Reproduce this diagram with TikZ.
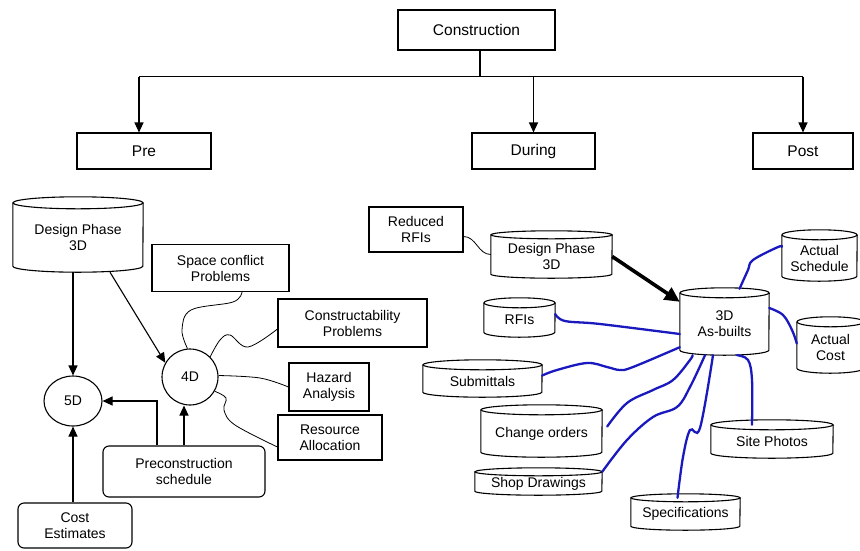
\documentclass[tikz,border=0pt]{standalone}
\usepackage{fontspec}
\setmainfont{Liberation Sans}
\usetikzlibrary{arrows.meta,shapes.geometric}
\definecolor{wireblue}{RGB}{25,25,190}
% cylinder: name, x1, ytop, x2, ybot, ry, text
\newcommand{\dbcyl}[7]{%
  \node[cylbody, minimum width={(#4-#2)*1pt}, minimum height={(#5-#3-#6)*1pt}] (#1) at ({(#2+#4)/2},{(#3+#6+#5)/2}) {#7};
  \draw[cylline] (#1.north west) -- ([yshift=#6pt]#1.south west)
     arc[start angle=180,end angle=360,x radius={(#4-#2)/2*1pt},y radius=#6pt] -- (#1.north east);
  \draw[cylline] (#1.north) ellipse[x radius={(#4-#2)/2*1pt}, y radius=#6pt];
}
\tikzset{
  txt/.style={font=\fontsize{14}{16}\selectfont},
  bigtxt/.style={font=\fontsize{15.5}{17}\selectfont},
  boxn/.style={draw, line width=1.1pt, rectangle, inner sep=0pt, align=center, txt},
  topbox/.style={boxn, bigtxt},
  rbox/.style={boxn, rounded corners=6pt},
  cylbody/.style={rectangle, inner sep=0pt, align=center, txt},
  cylline/.style={line width=1.1pt},
  circn/.style={draw, line width=1.1pt, ellipse, inner sep=0pt, txt},
  arr/.style={line width=1.1pt, -{Triangle[length=10pt,width=9pt]}},
  thickarr/.style={line width=3.6pt, -{Triangle[length=15pt,width=14pt]}},
  wire/.style={line width=0.8pt},
  bwire/.style={line width=2.3pt, wireblue, line cap=round},
}
\begin{document}
\begin{tikzpicture}[x=1pt,y=-1pt]
\useasboundingbox (0,0) rectangle (860,550);

% top level
\node[topbox, minimum width=157pt, minimum height=40pt] (cons) at (476.5,30) {Construction};
\node[topbox, minimum width=134pt, minimum height=36pt] (pre) at (144,151) {Pre};
\node[topbox, minimum width=123pt, minimum height=36pt] (during) at (533.5,151) {During};
\node[topbox, minimum width=100pt, minimum height=36pt] (post) at (803,151) {Post};

\draw[line width=1.1pt] ([xshift=3.5pt]cons.south) -- ++(0,26) coordinate (jn);
\draw[line width=1.1pt] ([xshift=-5pt]pre.north |- jn) -- (post.north |- jn);
\draw[arr] ([xshift=-5pt]pre.north |- jn) -- ([xshift=-5pt]pre.north);
\draw[arr] (during.north |- jn) -- (during.north);
\draw[arr] (post.north |- jn) -- (post.north);

% left part
\dbcyl{dpa}{13}{197}{143}{272}{6}{Design Phase\\3D}
\node[circn, minimum width=58pt, minimum height=50pt] (fiveD) at (73,401) {5D};
\node[circn, minimum width=56pt, minimum height=56pt] (fourD) at (190,377) {4D};
\node[boxn, minimum width=137pt, minimum height=47pt] (space) at (220.5,268) {Space conflict\\Problems};
\node[boxn, minimum width=149pt, minimum height=48pt] (constr) at (352.5,323) {Constructability\\Problems};
\node[boxn, minimum width=80pt, minimum height=48pt] (hazard) at (329,387) {Hazard\\Analysis};
\node[boxn, minimum width=104pt, minimum height=45pt] (resource) at (330,437.5) {Resource\\Allocation};
\node[rbox, minimum width=162pt, minimum height=51pt] (precon) at (184,471.5) {Preconstruction\\schedule};
\node[rbox, minimum width=114pt, minimum height=45pt] (cost) at (75,525.5) {Cost\\Estimates};

\draw[arr] (fiveD.north |- dpa.south) -- (fiveD.north);
\draw[arr] ([xshift=32pt]dpa.south) -- (fourD.150);
\draw[arr] ([xshift=-27pt]precon.north) |- (fiveD.east);
\draw[arr] (precon.north) -- (precon.north |- fourD.south);
\draw[arr] (fiveD.south |- cost.north) -- (fiveD.south);

\draw[wire] plot[smooth, tension=0.6] coordinates {(fourD.95) (182,330) (191,310) (233,302) ([xshift=21.5pt]space.south)};
\draw[wire] plot[smooth, tension=0.6] coordinates {(fourD.45) (220,340) (230,335) (248,347) ([yshift=-6pt]constr.west)};
\draw[wire] plot[smooth, tension=0.6] coordinates {(fourD.3) (260,378) (hazard.west)};
\draw[wire] plot[smooth, tension=0.6] coordinates {(fourD.-30) (226,398) (224,410) (235,425) ([yshift=-9.5pt]resource.west)};

% right part
\node[boxn, minimum width=94pt, minimum height=45pt] (rrfi) at (416,229.5) {Reduced\\RFIs};
\dbcyl{dpb}{491}{231}{612}{278}{4}{Design Phase\\3D}
\dbcyl{rfis}{484}{298}{555}{337}{5}{RFIs}
\dbcyl{subm}{423}{360}{542}{397}{5}{Submittals}
\dbcyl{chg}{481}{405}{602}{457}{5}{Change orders}
\dbcyl{shop}{475}{468}{602}{495}{4}{Shop Drawings}
\dbcyl{spec}{631}{494}{740}{530}{4}{Specifications}
\dbcyl{site}{711}{420}{833}{458}{5}{Site Photos}
\dbcyl{asb}{680}{288}{769}{355}{5}{3D\\As-builts}
\dbcyl{asched}{782}{230}{857}{281}{5}{Actual\\Schedule}
\dbcyl{acost}{797}{317}{864}{373}{5}{Actual\\Cost}

\draw[wire] ([yshift=-7pt]rrfi.east) to[out=0,in=180] ([yshift=2pt]dpb.west);
\draw[thickarr] (dpb.east) -- ([yshift=-9pt]asb.north west);

\draw[bwire] plot[smooth, tension=0.6] coordinates {([xshift=15pt,yshift=4pt]asb.north) (748,270) (753,260) (778,247) ([yshift=11pt]asched.west)};
\draw[bwire] plot[smooth, tension=0.6] coordinates {([yshift=16pt]asb.east) (783,315) (792,330) ([yshift=4pt]acost.west)};
\draw[bwire] plot[smooth, tension=0.6] coordinates {([yshift=6pt]rfis.east) (565,321) (600,324) ([yshift=-10pt]asb.west)};
\draw[bwire] plot[smooth, tension=0.6] coordinates {([yshift=5.5pt]subm.east) (557,370) (587,363) (607,367) (620,370) (633,367) ([yshift=8pt]asb.south west)};
\draw[bwire] plot[smooth, tension=0.6] coordinates {([xshift=5pt,yshift=7pt]chg.east) (627,403) (653,390) (673,380) (690,360) ([xshift=-32pt]asb.south)};
\draw[bwire] plot[smooth, tension=0.6] coordinates {(shop.north east) (627,440) (653,417) (677,407) (690,387) ([xshift=-19.5pt]asb.south)};
\draw[bwire] plot[smooth, tension=0.6] coordinates {([xshift=-8pt]spec.north) (683,457) (690,430) (700,428) ([xshift=-11.5pt]asb.south)};
\draw[bwire] plot[smooth, tension=0.6] coordinates {([xshift=-20pt]site.north) (752,380) (748,360) ([xshift=12.5pt]asb.south)};
\end{tikzpicture}
\end{document}
